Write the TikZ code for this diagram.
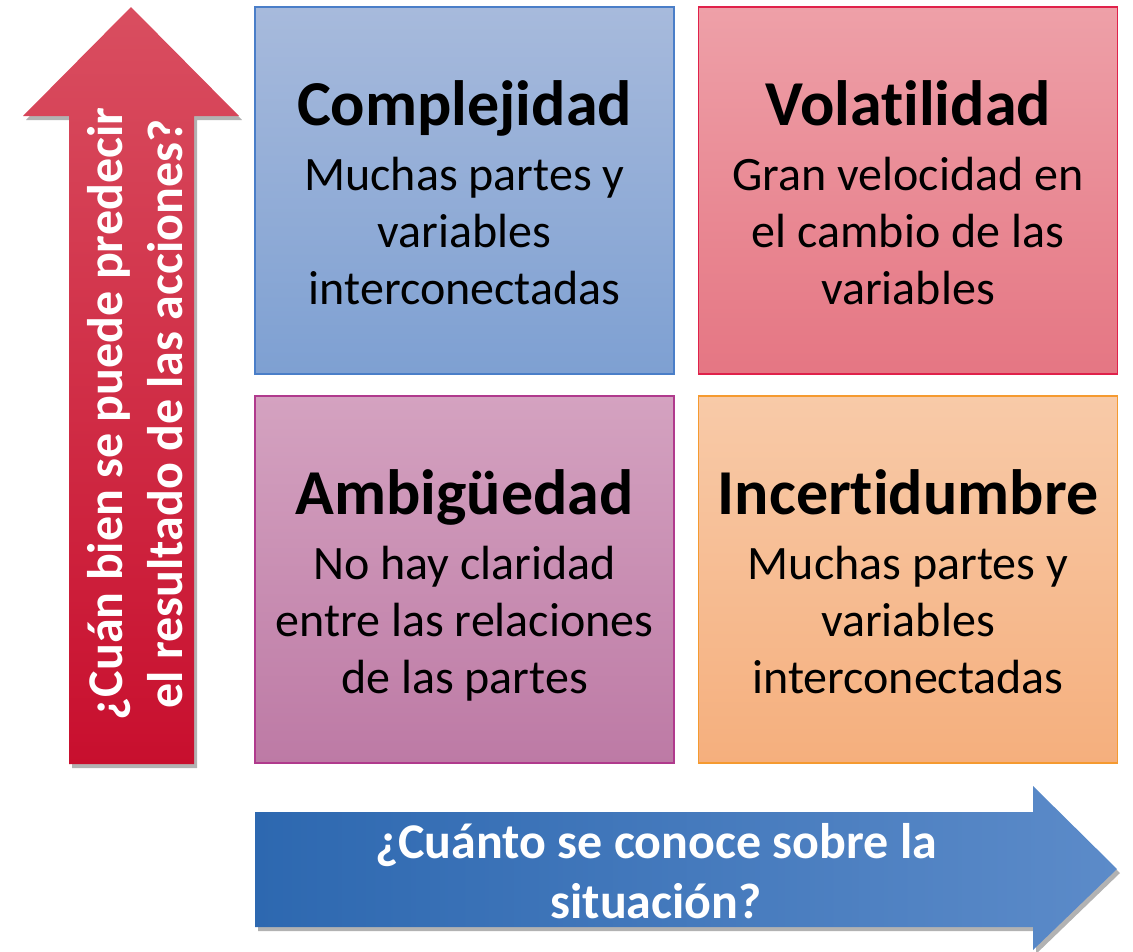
\documentclass[tikz,border=0pt]{standalone}
\usepackage{fontspec}
\setmainfont{Carlito}[Ligatures=NoCommon]
\usetikzlibrary{shadows}
\definecolor{bTop}{HTML}{A7BADC}
\definecolor{bBot}{HTML}{7EA0D2}
\definecolor{bLine}{HTML}{4A7EC8}
\definecolor{rTop}{HTML}{EEA0A8}
\definecolor{rBot}{HTML}{E57683}
\definecolor{rLine}{HTML}{E0214A}
\definecolor{pTop}{HTML}{D4A2C0}
\definecolor{pBot}{HTML}{BD7AA5}
\definecolor{pLine}{HTML}{B03A8D}
\definecolor{oTop}{HTML}{F8CAA8}
\definecolor{oBot}{HTML}{F5AF7D}
\definecolor{oLine}{HTML}{F59A30}
\definecolor{upTop}{HTML}{D94E60}
\definecolor{upBot}{HTML}{C80F2E}
\definecolor{rtLeft}{HTML}{2D68B0}
\definecolor{rtRight}{HTML}{5C8BC9}
\newcommand{\ttl}[1]{{\fontsize{64}{66}\selectfont\bfseries\rule{0pt}{63.5pt}#1}\\[7.5pt]}
\newcommand{\lastln}[1]{#1\rule[-15pt]{0pt}{15pt}}
\begin{document}
\begin{tikzpicture}[x=1pt,y=-1pt,
  quad/.style={draw=#1Line, line width=1.3pt, minimum width=419pt, minimum height=367pt,
    align=center, inner sep=0pt, font=\fontsize{48}{57}\selectfont,
    top color=#1Top, bottom color=#1Bot},
  arrowtext/.style={text=white, align=center, font=\fontsize{50}{60}\selectfont\bfseries},
  ashadow/.style={drop shadow={shadow xshift=3pt, shadow yshift=-4pt, opacity=.3, fill=black}}]
\useasboundingbox (0,0) rectangle (1133,951);
\node[quad=b] (cx) at (464.5,190.5) {\ttl{Complejidad}Muchas partes y\\variables\\\lastln{interconectadas}};
\node[quad=r] (vo) at (908,190.5) {\ttl{Volatilidad}Gran velocidad en\\el cambio de las\\\lastln{variables}};
\node[quad=p] (am) at (464.5,579.5) {\ttl{Ambigüedad}No hay claridad\\entre las relaciones\\\lastln{de las partes}};
\node[quad=o] (in) at (908,579.5) {\ttl{Incertidumbre}Muchas partes y\\variables\\\lastln{interconectadas}};
% vertical arrow
\path[ashadow, top color=upTop, bottom color=upBot]
  (69,764) -- (69,116) -- (23,116) -- (131,7) -- (239,116) -- (194,116) -- (194,764) -- cycle;
\node[arrowtext, rotate=90] (ya) at (135,414) {¿Cuán bien se puede predecir\\el resultado de las acciones?};
% horizontal arrow
\path[ashadow, left color=rtLeft, right color=rtRight]
  (255,812) -- (1033,812) -- (1033,786) -- (1117,869) -- (1033,950) -- (1033,927) -- (255,927) -- cycle;
\node[arrowtext] (xa) at (656,871) {¿Cuánto se conoce sobre la\\situación?};
\end{tikzpicture}
\end{document}
